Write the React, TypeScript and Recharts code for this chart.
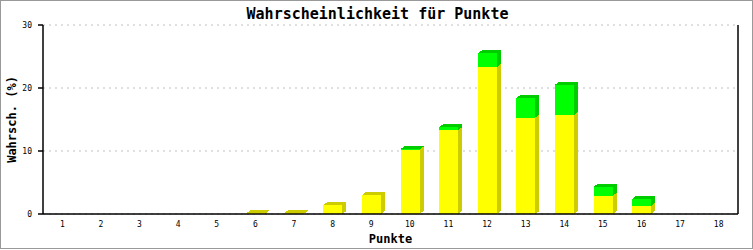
import { Bar, BarChart, CartesianGrid, XAxis, YAxis } from 'recharts';

// Punkte 1..18
const punkte = ['1', '2', '3', '4', '5', '6', '7', '8', '9', '10', '11', '12', '13', '14', '15', '16', '17', '18'];
const gelb = [0, 0, 0, 0, 0, 0.1, 0.2, 1.4, 3.0, 10.2, 13.3, 23.3, 15.3, 15.7, 2.9, 1.3, 0, 0];
const gruen = [0, 0, 0, 0, 0, 0, 0, 0, 0, 0.1, 0.5, 2.2, 3.1, 4.8, 1.4, 1.1, 0, 0];
const yTicks = [0, 10, 20, 30];

const data = punkte.map((p, i) => ({ punkte: p, gelb: gelb[i], gruen: gruen[i] }));

const mono = '"DejaVu Sans Mono", monospace';

function make3D(front: string, dark: string) {
    return (props: any) => {
        const { x, y, width, height } = props;
        if (!height || height <= 0) return <g />;
        const d = 4;
        const dy = 3;
        return (
            <g shapeRendering='crispEdges'>
                <rect x={x} y={y} width={width} height={height} fill={front} />
                <polygon
                    points={`${x + width},${y} ${x + width + d},${y - dy} ${x + width + d},${y + height - dy} ${x + width},${y + height}`}
                    fill={dark}
                />
                <polygon
                    points={`${x},${y} ${x + d},${y - dy} ${x + width + d},${y - dy} ${x + width},${y}`}
                    fill={dark}
                />
            </g>
        );
    };
}

const GelbShape = make3D('#ffff00', '#cccc00');
const GruenShape = make3D('#00ff00', '#00cc00');

function App() {
    return (
        <div
            style={{
                position: 'absolute',
                left: 0,
                top: 0,
                width: 753,
                height: 249,
                boxSizing: 'border-box',
                border: '1px solid #999999',
                background: '#fff',
            }}
        >
            <div
                style={{
                    position: 'absolute',
                    left: 0,
                    top: 4,
                    width: 753,
                    textAlign: 'center',
                    fontFamily: mono,
                    fontWeight: 'bold',
                    fontSize: 15,
                }}
            >
                Wahrscheinlichkeit für Punkte
            </div>
            <div style={{ position: 'absolute', left: -1, top: -1 }}>
                <BarChart
                    width={753}
                    height={250}
                    data={data}
                    margin={{ top: 25, right: 14, bottom: 0, left: 0 }}
                    barSize={19}
                >
                    <CartesianGrid vertical={false} stroke='#c0c0c0' strokeDasharray='2 4' />
                    <XAxis
                        dataKey='punkte'
                        height={36}
                        stroke='#000'
                        strokeWidth={1.5}
                        tickLine={false}
                        tickMargin={1}
                        tick={{ fill: '#000', fontSize: 8, fontFamily: mono }}
                        label={{
                            value: 'Punkte',
                            position: 'insideBottom',
                            offset: 7,
                            style: { fill: '#000', fontSize: 12, fontWeight: 'bold', fontFamily: mono },
                        }}
                    />
                    <YAxis
                        width={43}
                        domain={[0, 30]}
                        ticks={yTicks}
                        stroke='#000'
                        strokeWidth={1.5}
                        tickSize={5}
                        tickMargin={6}
                        tick={{ fill: '#000', fontSize: 8, fontFamily: mono }}
                        label={{
                            value: 'Wahrsch. (%)',
                            angle: -90,
                            position: 'insideLeft',
                            offset: 12,
                            style: { textAnchor: 'middle', fill: '#000', fontSize: 12, fontWeight: 'bold', fontFamily: mono },
                        }}
                    />
                    <YAxis
                        yAxisId='right'
                        orientation='right'
                        width={1}
                        domain={[0, 30]}
                        tick={false}
                        tickLine={false}
                        stroke='#000'
                        strokeWidth={1.5}
                    />
                    <Bar dataKey='gelb' stackId='a' shape={GelbShape} isAnimationActive={false} />
                    <Bar dataKey='gruen' stackId='a' shape={GruenShape} isAnimationActive={false} />
                </BarChart>
            </div>
        </div>
    );
}

export default App;
